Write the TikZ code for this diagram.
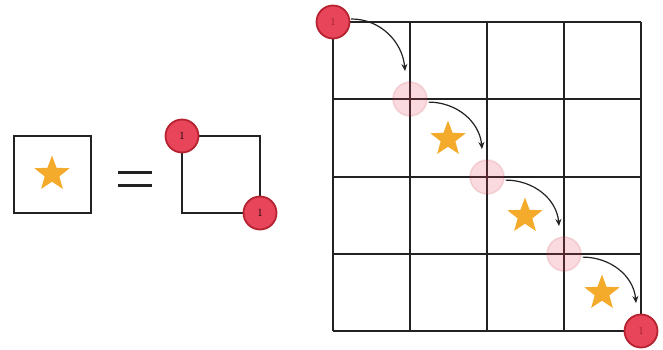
\documentclass[tikz,border=0pt]{standalone}
\usetikzlibrary{shapes.geometric,arrows.meta}
\definecolor{cred}{HTML}{E8455A}
\definecolor{cdark}{HTML}{B52331}
\definecolor{cstar}{HTML}{F4AA2A}
\definecolor{cline}{HTML}{222222}
\begin{document}
\begin{tikzpicture}[x=1pt,y=-1pt,
  gridln/.style={draw=cline,line width=1.5pt},
  redc/.style={circle,fill=cred,draw=cdark,line width=1.8pt,minimum size=33pt,inner sep=0pt,font=\fontsize{11}{12}\selectfont},
  fadec/.style={circle,fill=cred,draw=cdark,fill opacity=0.2,draw opacity=0.12,text opacity=0.35,line width=1.8pt,minimum size=34pt,inner sep=0pt,font=\fontsize{11}{12}\selectfont,text=cdark},
  starn/.style={star,star points=5,star point ratio=2.4,fill=cstar,minimum size=37pt,inner sep=0pt},
  arr/.style={draw=cline,line width=1.2pt,-{Stealth[length=7pt,width=6pt]}}]
\useasboundingbox (0,0) rectangle (663,350);
% left box
\draw[gridln] (14,136) rectangle (91,213);
\node[starn] (s0) at (52,174) {};
% equals
\draw[line width=2.8pt,cline] (118,172.5) -- (152,172.5) (118,185.5) -- (152,185.5);
% right small square
\draw[gridln] (182,136) rectangle (260,213);
\node[redc] (a1) at (182,136) {1};
\node[redc] (a2) at (260,213) {1};
% big grid
\foreach \p in {22,99,177,254,331}{
  \draw[gridln] (333,\p) -- (641,\p);
}
\foreach \p in {333,410,487,564,641}{
  \draw[gridln] (\p,22) -- (\p,331);
}
\node[starn] (s1) at (448,139) {};
\node[starn] (s2) at (525,216) {};
\node[starn] (s3) at (602,293) {};
\node[fadec] (f1) at (410,99) {1};
\node[fadec] (f2) at (487,177) {1};
\node[fadec] (f3) at (564,254) {1};
\node[redc,text=cdark!85!black] (c0) at (333,22) {1};
\node[redc,text=cdark!85!black] (c4) at (641,331) {1};
\coordinate (t1) at (405,71);
\coordinate (t2) at (482,149);
\coordinate (t3) at (559,226);
\coordinate (t4) at (636,303);
\draw[arr] ([xshift=1pt]c0.10) to[out=0,in=95] (t1);
\draw[arr] ([xshift=1pt]f1.-10) to[out=0,in=95] (t2);
\draw[arr] ([xshift=1pt]f2.-10) to[out=0,in=95] (t3);
\draw[arr] ([xshift=1pt]f3.-10) to[out=0,in=95] (t4);
\end{tikzpicture}
\end{document}
